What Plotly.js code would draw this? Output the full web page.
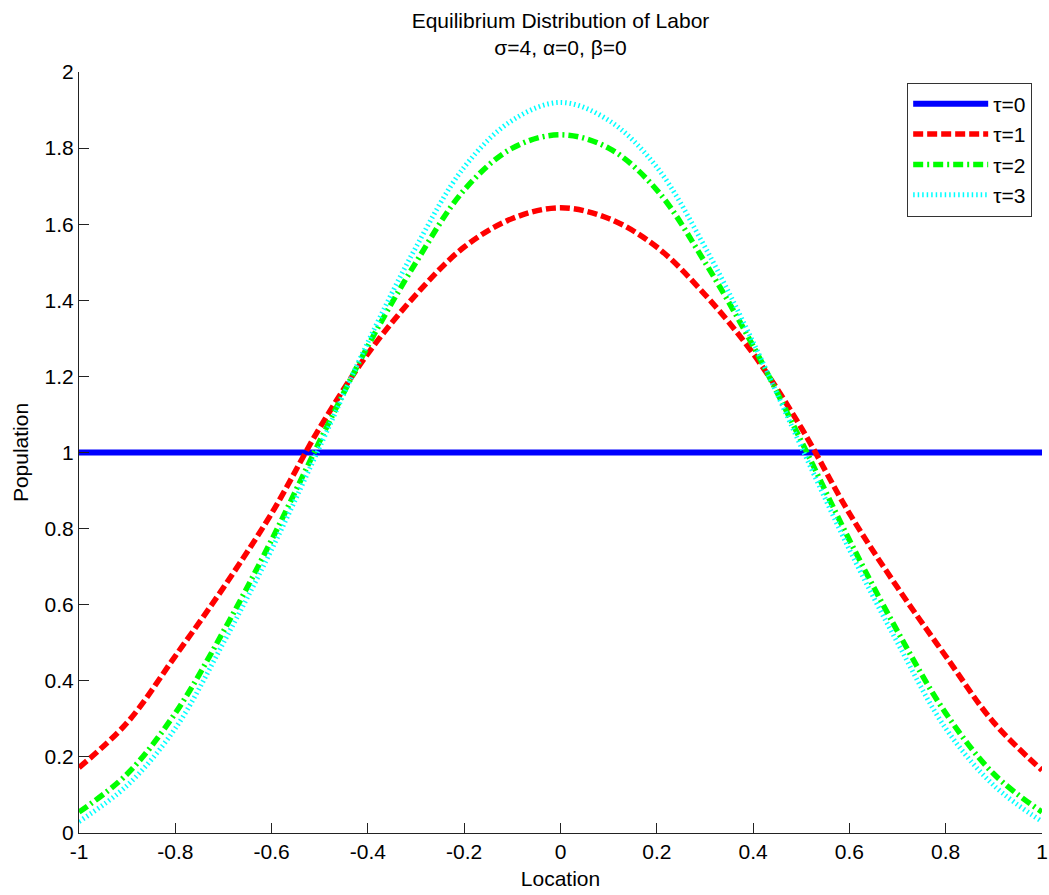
<!DOCTYPE html>
<html>
<head>
<meta charset="utf-8">
<script src="https://cdn.plot.ly/plotly-3.0.1.min.js"></script>
<style>html,body{margin:0;padding:0;background:#fff;}#chart{width:1049px;height:895px;}</style>
</head>
<body>
<div id="chart"></div>
<script>
// Data
const location_x = [-1, -0.9, -0.8, -0.7, -0.6, -0.5, -0.4, -0.3, -0.2, -0.1, 0, 0.1, 0.2, 0.3, 0.4, 0.5, 0.6, 0.7, 0.8, 0.9, 1];
const tau0 = [1, 1, 1, 1, 1, 1, 1, 1, 1, 1, 1, 1, 1, 1, 1, 1, 1, 1, 1, 1, 1];
const tau1 = [0.172, 0.29, 0.465, 0.645, 0.84, 1.065, 1.26, 1.415, 1.54, 1.615, 1.643, 1.615, 1.54, 1.415, 1.26, 1.065, 0.84, 0.645, 0.465, 0.29, 0.165];
const tau2 = [0.055, 0.155, 0.315, 0.53, 0.77, 1.03, 1.28, 1.5, 1.69, 1.8, 1.835, 1.8, 1.69, 1.5, 1.28, 1.03, 0.77, 0.53, 0.315, 0.155, 0.055];
const tau3 = [0.03, 0.125, 0.275, 0.5, 0.745, 1.015, 1.29, 1.54, 1.75, 1.873, 1.92, 1.873, 1.75, 1.54, 1.29, 1.015, 0.745, 0.5, 0.275, 0.125, 0.03];
const seriesNames = ["τ=0", "τ=1", "τ=2", "τ=3"];
const xTickVals = [-1, -0.8, -0.6, -0.4, -0.2, 0, 0.2, 0.4, 0.6, 0.8, 1];
const xTickText = ["-1", "-0.8", "-0.6", "-0.4", "-0.2", "0", "0.2", "0.4", "0.6", "0.8", "1"];
const yTickVals = [0, 0.2, 0.4, 0.6, 0.8, 1, 1.2, 1.4, 1.6, 1.8, 2];
const yTickText = ["0", "0.2", "0.4", "0.6", "0.8", "1", "1.2", "1.4", "1.6", "1.8", "2"];

const FONT = "'Liberation Sans', Arial, Helvetica, sans-serif";

const traces = [
  {x: location_x, y: tau0, name: seriesNames[0], mode: "lines",
   line: {color: "#0000ff", width: 6}},
  {x: location_x, y: tau1, name: seriesNames[1], mode: "lines",
   line: {color: "#ff0000", width: 5.5, dash: "10px,4px", shape: "spline", smoothing: 1}},
  {x: location_x, y: tau2, name: seriesNames[2], mode: "lines",
   line: {color: "#00ff00", width: 5.5, dash: "10px,4px,2px,4px", shape: "spline", smoothing: 1}},
  {x: location_x, y: tau3, name: seriesNames[3], mode: "lines",
   line: {color: "#00ffff", width: 5, dash: "1.5px,3px", shape: "spline", smoothing: 1}}
];

const axisCommon = {
  showgrid: false, zeroline: false, showline: true, linecolor: "#222", linewidth: 1,
  ticks: "inside", ticklen: 10, tickwidth: 1, tickcolor: "#222",
  tickfont: {family: FONT, size: 21, color: "#000"}, mirror: false,
  ticklabeloverflow: "allow"
};

const layout = {
  width: 1049, height: 895,
  margin: {l: 79, r: 7, t: 72, b: 62},
  paper_bgcolor: "#fff", plot_bgcolor: "#fff",
  font: {family: FONT, color: "#000"},
  showlegend: true,
  title: {
    text: "Equilibrium Distribution of Labor<br>σ=4, α=0, β=0",
    font: {family: FONT, size: 21, color: "#000"},
    x: 0.5, xref: "paper", xanchor: "center",
    y: 0.969, yref: "container", yanchor: "top"
  },
  xaxis: Object.assign({}, axisCommon, {
    range: [-1, 1], tickmode: "array", tickvals: xTickVals, ticktext: xTickText,
    title: {text: "Location", font: {family: FONT, size: 21, color: "#000"}, standoff: 9}
  }),
  yaxis: Object.assign({}, axisCommon, {
    range: [0, 2], tickmode: "array", tickvals: yTickVals, ticktext: yTickText,
    title: {text: "Population", font: {family: FONT, size: 21, color: "#000"}, standoff: 10}
  }),
  legend: {
    x: 0.86, y: 0.986, xanchor: "left", yanchor: "top",
    bgcolor: "#fff", bordercolor: "#333", borderwidth: 1,
    font: {family: FONT, size: 21, color: "#000"},
    itemwidth: 75, tracegroupgap: 0
  }
};

Plotly.newPlot("chart", traces, layout, {staticPlot: true, displayModeBar: false});
</script>
</body>
</html>
